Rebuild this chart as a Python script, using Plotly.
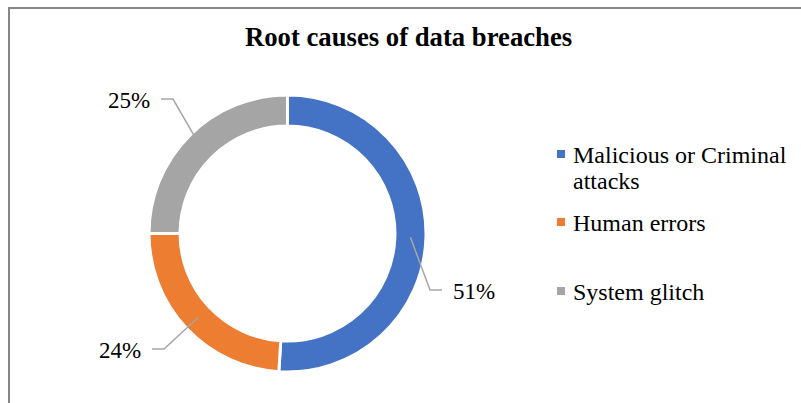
import math
import plotly.graph_objects as go

# --- chart data ---------------------------------------------------------
causes = ["Malicious or Criminal attacks", "Human errors", "System glitch"]
legend_lines = [["Malicious or Criminal", "attacks"], ["Human errors"], ["System glitch"]]
shares = [51, 24, 25]
colors = ["#4472C4", "#ED7D31", "#A5A5A5"]
title = "Root causes of data breaches"

# --- layout (pixels) ----------------------------------------------------
W, H = 801, 403
CX, CY, R = 287.5, 233.5, 138.5     # donut centre / outer radius
HOLE = 0.776
SERIF = "Liberation Serif, Times New Roman, serif"

# where each leader line meets its label, and which side the label sits on
leader_ends = [(442, 290, "left"), (152, 349, "right"), (161, 99, "right")]
# legend rows: marker centre y
legend_rows = [154, 222, 291]
legend_x = 561
legend_line_gap = 26


def px(x):
    return x / W


def py(y):
    return 1 - y / H


fig = go.Figure(
    go.Pie(
        labels=causes,
        values=shares,
        hole=HOLE,
        sort=False,
        direction="clockwise",
        rotation=0,
        marker=dict(colors=colors, line=dict(color="white", width=3)),
        textinfo="none",
        hoverinfo="label+percent",
        showlegend=False,
        domain=dict(x=[px(CX - R), px(CX + R)], y=[py(CY + R), py(CY - R)]),
    )
)

shapes = []
annotations = []

# chart frame
shapes.append(dict(type="rect", xref="paper", yref="paper",
                   x0=px(9), x1=px(W + 20), y0=py(H + 20), y1=py(8),
                   line=dict(color="#878787", width=2), fillcolor="rgba(0,0,0,0)",
                   layer="below"))

# percentage labels with two-segment leader lines
total = sum(shares)
start = 0.0
mid_r = R * (1 + HOLE) / 2
for v, (ex, ey, side) in zip(shares, leader_ends):
    frac = v / total
    ang = math.radians((start + frac / 2) * 360)
    start += frac
    ax = CX + mid_r * math.sin(ang)
    ay = CY - mid_r * math.cos(ang)
    elbow_x = ex - 12 if side == "left" else ex + 12
    path = (f"M {px(ax)},{py(ay)} L {px(elbow_x)},{py(ey)} L {px(ex)},{py(ey)}")
    shapes.append(dict(type="path", xref="paper", yref="paper", path=path,
                       line=dict(color="#A6A6A6", width=1.5)))
    tx = ex + 9 if side == "left" else ex - 9
    annotations.append(dict(
        x=px(tx), y=py(ey + 1), xref="paper", yref="paper",
        text=f"{round(v / total * 100)}%", showarrow=False,
        xanchor=side, yanchor="middle",
        font=dict(family=SERIF, size=23, color="#000000")))

# legend
for c, lines, y in zip(colors, legend_lines, legend_rows):
    shapes.append(dict(type="rect", xref="paper", yref="paper",
                       x0=px(legend_x - 4), x1=px(legend_x + 4),
                       y0=py(y + 4), y1=py(y - 4),
                       fillcolor=c, line=dict(width=0)))
    for i, line in enumerate(lines):
        annotations.append(dict(
            x=px(legend_x + 10), y=py(y + 1 + i * legend_line_gap),
            xref="paper", yref="paper",
            text=line, showarrow=False, xanchor="left", yanchor="middle",
            font=dict(family=SERIF, size=24, color="#000000")))

# title
annotations.append(dict(
    x=px(408.5), y=py(37), xref="paper", yref="paper",
    text=f"<b>{title}</b>", showarrow=False, xanchor="center", yanchor="middle",
    font=dict(family=SERIF, size=26.7, color="#000000")))

fig.update_layout(
    width=W, height=H, autosize=False,
    margin=dict(l=0, r=0, t=0, b=0),
    paper_bgcolor="white", plot_bgcolor="white",
    shapes=shapes, annotations=annotations,
)

fig.write_html("out.html")
